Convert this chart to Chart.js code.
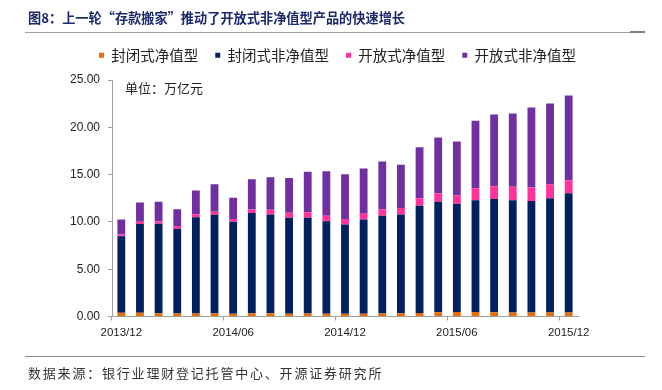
<!DOCTYPE html>
<html>
<head>
<meta charset="utf-8">
<script src="https://cdn.jsdelivr.net/npm/chart.js@4.4.1/dist/chart.umd.min.js"></script>
<style>
  body { margin: 0; background: #fff; }
  .page { position: relative; width: 662px; height: 390px; overflow: hidden; }
  #chart { position: absolute; left: 0; top: 0; }
  .title { position: absolute; left: 28px; top: 8px; font: bold 13.2px "Noto Sans CJK SC", sans-serif; color: #1B2A6B; white-space: nowrap; }
  .rule-top { position: absolute; left: 25px; top: 32px; width: 620px; height: 1px; background: #A0A0A0; }
  .rule-top-end { position: absolute; left: 630px; top: 31px; width: 15px; height: 2px; background: #808080; }
  .rule-bottom { position: absolute; left: 25px; top: 356px; width: 620px; height: 1px; background: #8C8C8C; }
  .unit { position: absolute; left: 125px; top: 78px; font: 13px "Noto Sans CJK SC", sans-serif; color: #222; white-space: nowrap; }
  .source { position: absolute; left: 28px; top: 363px; font: 13px "Noto Sans CJK SC", sans-serif; letter-spacing: 1.8px; color: #333; white-space: nowrap; }
</style>
</head>
<body>
<div class="page">
  <canvas id="chart" width="662" height="390"></canvas>
  <div class="title">图8：上一轮“存款搬家”推动了开放式非净值型产品的快速增长</div>
  <div class="rule-top"></div>
  <div class="rule-top-end"></div>
  <div class="unit">单位：万亿元</div>
  <div class="rule-bottom"></div>
  <div class="source">数据来源：银行业理财登记托管中心、开源证券研究所</div>
</div>
<script>
// months on the x axis
const months = ['2013/12','2014/01','2014/02','2014/03','2014/04','2014/05','2014/06',
  '2014/07','2014/08','2014/09','2014/10','2014/11','2014/12','2015/01','2015/02',
  '2015/03','2015/04','2015/05','2015/06','2015/07','2015/08','2015/09','2015/10',
  '2015/11','2015/12'];

// 万亿元
const closedNav    = [0.40,0.40,0.35,0.33,0.33,0.32,0.30,0.35,0.35,0.30,0.33,0.30,0.28,0.30,0.33,0.35,0.38,0.45,0.48,0.48,0.45,0.43,0.42,0.42,0.42];
const closedNonNav = [8.07,9.37,9.45,8.94,10.17,10.43,9.71,10.58,10.44,10.13,10.10,9.78,9.45,9.96,10.31,10.44,11.32,11.67,11.43,11.82,11.96,11.87,11.78,12.09,12.62];
const openNav      = [0.21,0.24,0.28,0.29,0.32,0.32,0.29,0.39,0.49,0.53,0.60,0.56,0.58,0.60,0.68,0.67,0.81,0.92,0.92,1.27,1.37,1.41,1.44,1.48,1.37];
const openNonNav   = [1.58,2.05,2.04,1.79,2.51,2.92,2.25,3.20,3.45,3.67,4.26,4.72,4.72,4.79,5.07,4.57,5.39,5.88,5.67,7.11,7.57,7.75,8.45,8.52,8.95];

const yTicks = [0, 5, 10, 15, 20, 25];
const axisGrey = '#A0A0A0';

// legend is given a fixed height so the plot starts at y=80
const legendHeight = {
  id: 'legendHeight',
  beforeInit(chart) {
    const fit = chart.legend.fit;
    chart.legend.fit = function() {
      fit.call(chart.legend);
      this.height = 49;
    };
  }
};

// plot box: x 112..578, y 80..316.5 ; legend centred on 337.5
const chart = new Chart('chart', {
  type: 'bar',
  plugins: [legendHeight],
  data: {
    labels: months,
    datasets: [
      { label: '封闭式净值型', data: closedNav, backgroundColor: '#E46C0A' },
      { label: '封闭式非净值型', data: closedNonNav, backgroundColor: '#002060' },
      { label: '开放式净值型', data: openNav, backgroundColor: '#FF3399' },
      { label: '开放式非净值型', data: openNonNav, backgroundColor: '#7030A0' }
    ]
  },
  options: {
    responsive: false,
    animation: false,
    barPercentage: 0.42,
    categoryPercentage: 1,
    layout: { padding: { left: 20, right: 7, top: 31, bottom: 43.5 } },
    plugins: {
      tooltip: { enabled: false },
      legend: {
        position: 'top',
        labels: {
          boxWidth: 5, boxHeight: 5, padding: 17, color: '#222',
          font: { family: '"Noto Sans CJK SC", sans-serif', size: 14.5 }
        }
      }
    },
    scales: {
      x: {
        stacked: true,
        afterFit: function(scale) { scale.height = 30; scale.paddingLeft = 0; scale.paddingRight = 0; },
        border: { color: axisGrey, width: 1 },
        grid: {
          drawOnChartArea: false, tickLength: 4,
          tickColor: function(ctx) { return ctx.index % 6 === 0 ? axisGrey : 'rgba(0,0,0,0)'; }
        },
        ticks: {
          autoSkip: false, maxRotation: 0, padding: 5, color: '#222',
          font: { family: '"Liberation Sans", Arial, sans-serif', size: 11.5 },
          callback: function(v, i) { return i % 6 === 0 ? months[i] : ''; }
        }
      },
      y: {
        stacked: true,
        min: 0, max: 25,
        afterFit: function(scale) { scale.width = 92; scale.paddingTop = 0; scale.paddingBottom = 0; },
        afterBuildTicks: function(scale) { scale.ticks = yTicks.map(function(v) { return { value: v }; }); },
        border: { color: axisGrey, width: 1 },
        grid: { drawOnChartArea: false, tickLength: 4, tickColor: axisGrey },
        ticks: {
          padding: 8, color: '#222',
          font: { family: '"Liberation Sans", Arial, sans-serif', size: 12 },
          callback: function(v) { return v.toFixed(2); }
        }
      },
      // empty right-hand spacer so the plot stops at the same place as the original
      spacer: {
        position: 'right',
        afterFit: function(scale) { scale.width = 77; },
        border: { display: false },
        grid: { display: false },
        ticks: { display: false }
      }
    }
  }
});
</script>
</body>
</html>
